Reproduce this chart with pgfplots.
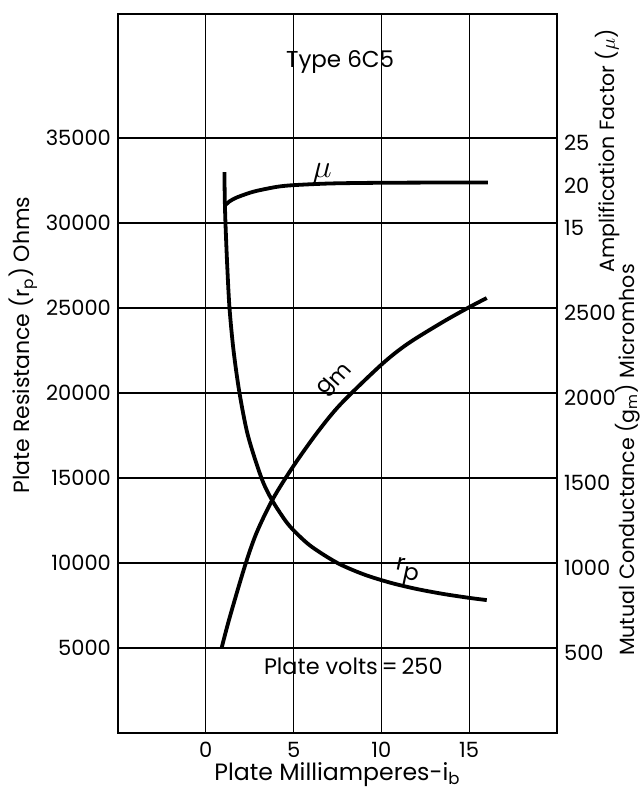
\documentclass[border=0pt]{standalone}
\usepackage{pgfplots}
\pgfplotsset{compat=1.18}
\usepackage{pgfplotstable}
\usepackage{fontspec}
\setmainfont{Poppins}

% Plate milliamperes vs. plate resistance (ohms)
\pgfplotstableread{
ib    rp
1.06  33000
1.08  31500
1.12  30000
1.22  27500
1.35  25000
1.58  22500
1.92  20000
2.40  17500
3.17  15000
3.75  13740
4.50  12540
5.04  11880
6.00  10980
7.50  10000
9.00  9330
10.50 8845
12.00 8475
13.50 8185
15.00 7950
16.00 7820
}\rptable

% Plate milliamperes vs. mutual conductance (micromhos)
\pgfplotstableread{
ib    gm
0.90  500
1.35  676
2.21  977
2.88  1175
3.81  1375
5.00  1572
6.35  1768
7.69  1936
10.00 2167
11.50 2290
13.50 2418
15.00 2505
16.00 2559
}\gmtable

% Plate milliamperes vs. amplification factor (mu)
\pgfplotstableread{
ib    mu
1.06  17.00
1.35  17.55
1.73  17.98
2.30  18.42
2.88  18.78
4.04  19.26
5.00  19.46
7.12  19.66
10.00 19.74
15.00 19.78
16.06 19.78
}\mutable

\begin{document}
\begin{tikzpicture}
\path[use as bounding box] (-59pt,-27.5pt) rectangle (262pt,366.5pt);
\begin{axis}[
  at={(0pt,0pt)}, anchor=south west,
  scale only axis, width=219.5pt, height=359.5pt,
  xmin=-5, xmax=20, ymin=0, ymax=42300,
  xtick={0,5,10,15}, ytick={5000,10000,15000,20000,25000,30000,35000},
  grid=major, major grid style={black, line width=0.65pt},
  major tick length=0pt,
  axis line style={line width=1pt},
  tick label style={font=\fontsize{10.5}{12}\selectfont},
  xticklabel style={yshift=-1pt},
  /pgf/number format/assume math mode=true,
  /pgf/number format/1000 sep={},
  scaled y ticks=false,
  clip=false,
]
\addplot[black, line width=1.9pt, smooth] table[x=ib, y=rp] {\rptable};
\addplot[black, line width=1.9pt, smooth] table[x=ib, y expr=\thisrow{gm}*10] {\gmtable};
\addplot[black, line width=1.9pt, smooth] table[x=ib, y expr=(\thisrow{mu}-15)*500+30000] {\mutable};

\node[font=\fontsize{11.5}{13}\selectfont] at (axis cs:7.65,39500) {Type 6C5};
\node[font=\fontsize{11.2}{13}\selectfont] at (axis cs:8.4,3900) {Plate volts\,=\,250};
\node[font=\fontsize{12}{14}\selectfont, scale=1.35] at (axis cs:6.63,32930) {$\mu$};
\node[font=\fontsize{11}{13}\selectfont, rotate=48] at (axis cs:7.35,20800) {g\raisebox{-0.2em}{m}};
\node[font=\fontsize{11.5}{13}\selectfont, rotate=-12] at (axis cs:11.45,9450) {r\raisebox{-0.3em}{p}};

\node[font=\fontsize{11}{13}\selectfont, rotate=90] at (axis cs:-10.4,22830) {Plate Resistance (r\textsubscript{p}) Ohms};
\node[font=\fontsize{11.8}{14}\selectfont] at (axis cs:7.5,-2450) {Plate Milliamperes-i\textsubscript{b}};
\node[font=\fontsize{10.3}{12}\selectfont, rotate=90] at (axis cs:22.9,34240) {Amplification Factor ($\mu$)};
\node[font=\fontsize{10.3}{12}\selectfont, rotate=90] at (axis cs:24.0,16060) {Mutual Conductance (g\textsubscript{m}) Micromhos};
\end{axis}
\begin{axis}[
  at={(0pt,0pt)}, anchor=south west,
  scale only axis, width=219.5pt, height=359.5pt,
  xmin=-5, xmax=20, ymin=0, ymax=42300,
  axis y line*=right, axis x line=none, xtick=\empty,
  ytick={5000,10000,15000,20000,25000,30000,32500,35000},
  yticklabels={500,1000,1500,2000,2500,15,20,25},
  scaled y ticks=false, scaled x ticks=false,
  major tick length=0pt,
  axis line style={line width=1pt},
  tick label style={font=\fontsize{10.5}{12}\selectfont},
  yticklabel style={yshift=-2.5pt},
]
\end{axis}
\end{tikzpicture}
\end{document}
